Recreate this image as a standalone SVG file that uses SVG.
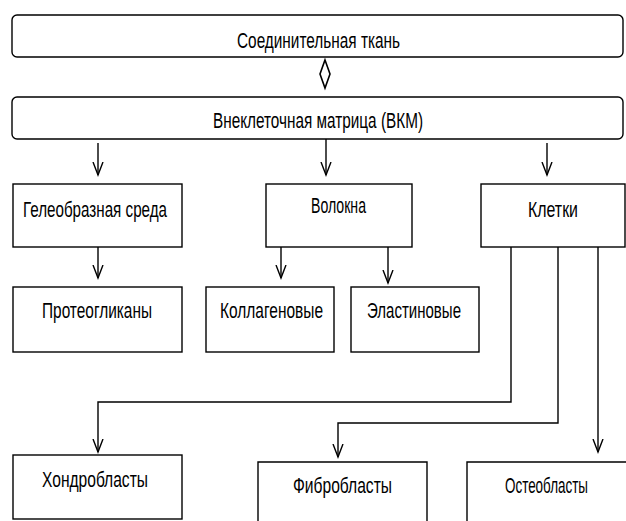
<svg xmlns="http://www.w3.org/2000/svg" width="626" height="521" viewBox="0 0 626 521">
<style>
.box{fill:#fff;stroke:#000;stroke-width:1.4}
.open{fill:none;stroke:#000;stroke-width:1.4}
.t{font-family:"Liberation Sans",Arial,sans-serif;font-size:22px;fill:#000;text-anchor:middle}
.c{fill:none;stroke:#000;stroke-width:1.4}
</style>
<defs>
<marker id="ah" markerUnits="userSpaceOnUse" markerWidth="16" markerHeight="14" refX="13" refY="6" orient="auto" viewBox="0 0 16 12">
<path d="M0,1 L13,6 L0,11" fill="none" stroke="#000" stroke-width="1.4"/>
</marker>
</defs>
<rect width="626" height="521" fill="#fff"/>
<g id="connectors">
<polygon points="325,60 330,74 325,88 320,74" fill="#fff" stroke="#000" stroke-width="1.6"/>
<path class="c" d="M98,143 V175" marker-end="url(#ah)"/>
<path class="c" d="M326,139 V175" marker-end="url(#ah)"/>
<path class="c" d="M547,143 V175" marker-end="url(#ah)"/>
<path class="c" d="M98,247 V278" marker-end="url(#ah)"/>
<path class="c" d="M281,247 V278" marker-end="url(#ah)"/>
<path class="c" d="M388,247 V283" marker-end="url(#ah)"/>
<path class="c" d="M511,247 V402 H98 V452" marker-end="url(#ah)"/>
<path class="c" d="M558,247 V423 H338 V457" marker-end="url(#ah)"/>
<path class="c" d="M598,247 V452" marker-end="url(#ah)"/>
</g>
<g id="n1"><rect class="box" x="12" y="15" width="611" height="42" rx="5"/><text class="t" x="318.5" y="48" textLength="163" lengthAdjust="spacingAndGlyphs">Соединительная ткань</text></g>
<g id="n2"><rect class="box" x="12" y="97" width="611" height="42" rx="5"/><text class="t" x="318" y="128" textLength="210" lengthAdjust="spacingAndGlyphs">Внеклеточная матрица (ВКМ)</text></g>
<g id="n3"><rect class="box" x="13" y="184" width="169" height="63"/><text class="t" x="95" y="217" textLength="144" lengthAdjust="spacingAndGlyphs">Гелеобразная среда</text></g>
<g id="n4"><rect class="box" x="266" y="184" width="146" height="63"/><text class="t" x="338.5" y="213" textLength="55" lengthAdjust="spacingAndGlyphs">Волокна</text></g>
<g id="n5"><rect class="box" x="481" y="184" width="144" height="63"/><text class="t" x="553" y="217" textLength="50" lengthAdjust="spacingAndGlyphs">Клетки</text></g>
<g id="n6"><rect class="box" x="13" y="287" width="169" height="65"/><text class="t" x="97" y="318" textLength="110" lengthAdjust="spacingAndGlyphs">Протеогликаны</text></g>
<g id="n7"><rect class="box" x="206" y="287" width="128" height="65"/><text class="t" x="271.5" y="318" textLength="103" lengthAdjust="spacingAndGlyphs">Коллагеновые</text></g>
<g id="n8"><rect class="box" x="351" y="287" width="128" height="65"/><text class="t" x="414" y="318" textLength="94" lengthAdjust="spacingAndGlyphs">Эластиновые</text></g>
<g id="n9"><rect class="box" x="13" y="455" width="169" height="64"/><text class="t" x="95" y="487" textLength="106" lengthAdjust="spacingAndGlyphs">Хондробласты</text></g>
<g id="n10"><path class="open" d="M258,521 V462 H427 V521"/><text class="t" x="342.5" y="493" textLength="99" lengthAdjust="spacingAndGlyphs">Фибробласты</text></g>
<g id="n11"><path class="open" d="M467,521 V462 H626"/><text class="t" x="546.5" y="493" textLength="83" lengthAdjust="spacingAndGlyphs">Остеобласты</text></g>
</svg>
